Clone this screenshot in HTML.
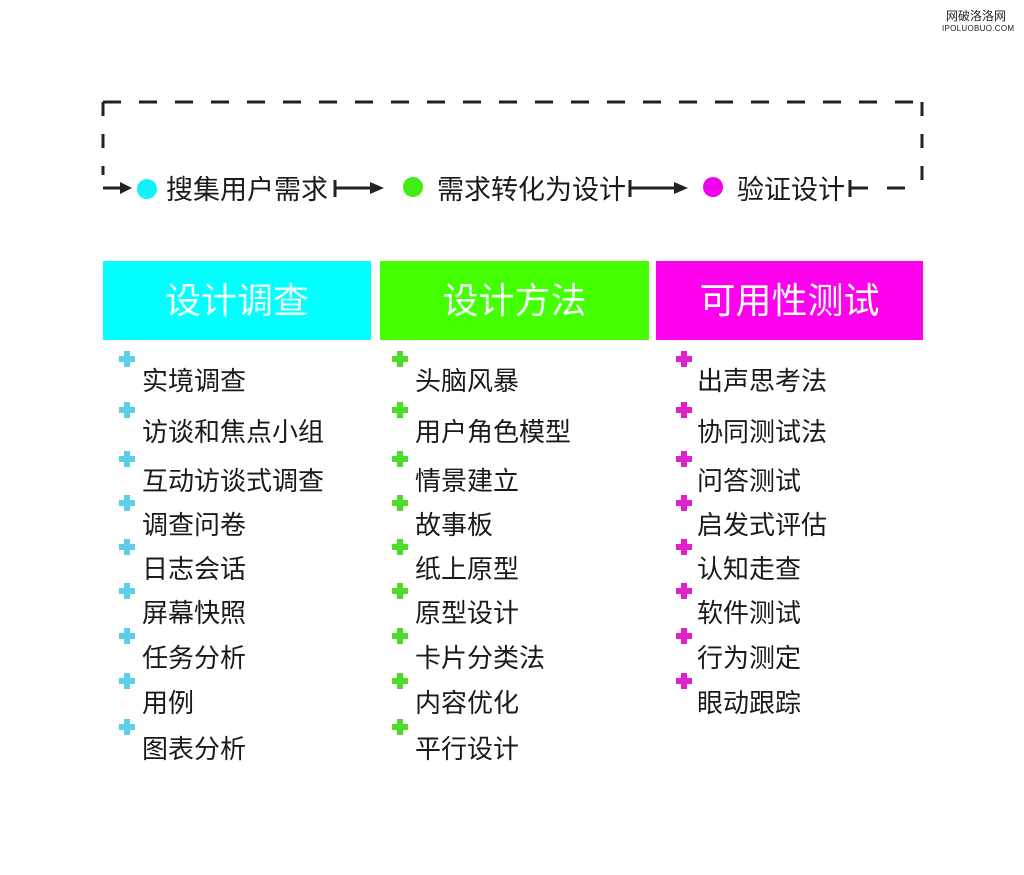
<!DOCTYPE html>
<html><head><meta charset="utf-8"><style>
body{margin:0;width:1024px;height:875px;background:#fff;position:relative;overflow:hidden;font-family:"Liberation Sans","Noto Sans CJK SC",sans-serif;color:#1a1a1a}
.a{position:absolute;white-space:nowrap}
.h{position:absolute;top:261px;height:79px;color:#f2fff8;font-size:36px;line-height:79px;text-align:center}
.it{position:absolute;font-size:26px;line-height:30px;white-space:nowrap}
.p{position:absolute;width:16px;height:16px}
.p:before{content:"";position:absolute;left:5px;top:0;width:6px;height:16px;background:var(--c)}
.p:after{content:"";position:absolute;left:0;top:5px;width:16px;height:6px;background:var(--c)}
</style></head><body>
<div class="a" style="left:946px;top:7px;font-size:12px;color:#222">网破洛洛网</div>
<div class="a" style="left:942px;top:24px;font-size:8px;color:#222;letter-spacing:0.3px">IPOLUOBUO.COM</div>
<svg class="a" style="left:0;top:0" width="1024" height="240">
<g stroke="#222" stroke-width="3" fill="none">
<line x1="103" y1="102" x2="921" y2="102" stroke-dasharray="18,18"/>
<line x1="103" y1="102" x2="103" y2="175" stroke-dasharray="14,18"/>
<line x1="922" y1="102" x2="922" y2="188" stroke-dasharray="14,18"/>
<line x1="103" y1="188" x2="122" y2="188"/>
<line x1="335" y1="180" x2="335" y2="197"/><line x1="335" y1="188" x2="372" y2="188"/>
<line x1="630" y1="180" x2="630" y2="197"/><line x1="630" y1="188" x2="676" y2="188"/>
<line x1="850" y1="180" x2="850" y2="197"/><line x1="850" y1="188" x2="868" y2="188"/>
<line x1="887" y1="188" x2="905" y2="188"/>
</g>
<g fill="#222"><polygon points="120,182 132,188 120,194"/><polygon points="370,182 384,188 370,194"/><polygon points="674,182 688,188 674,194"/></g>
<circle cx="147" cy="189" r="10" fill="#14f0f8"/>
<circle cx="413" cy="187" r="10" fill="#40ee14"/>
<circle cx="713" cy="187" r="10" fill="#f000ec"/>
<g font-size="27" fill="#1a1a1a" font-family="Liberation Sans,Noto Sans CJK SC,sans-serif">
<text x="166" y="199">搜集用户需求</text>
<text x="437" y="199">需求转化为设计</text>
<text x="737" y="199">验证设计</text>
</g></svg>
<div class="h" style="left:103px;width:268px;background:#00ffff">设计调查</div>
<div class="h" style="left:380px;width:269px;background:#44ff00">设计方法</div>
<div class="h" style="left:656px;width:267px;background:#ff00ee">可用性测试</div>
<div id="c"></div>
<script>
var cols=[[119,142,"#5ccfe6",["实境调查","访谈和焦点小组","互动访谈式调查","调查问卷","日志会话","屏幕快照","任务分析","用例","图表分析"]],
[392,415,"#4cdd2a",["头脑风暴","用户角色模型","情景建立","故事板","纸上原型","原型设计","卡片分类法","内容优化","平行设计"]],
[676,697,"#e020c8",["出声思考法","协同测试法","问答测试","启发式评估","认知走查","软件测试","行为测定","眼动跟踪"]]];
var ys=[381,432,481,525,569,613,658,703,749],h="";
cols.forEach(function(c){c[3].forEach(function(t,i){var y=ys[i];
h+='<div class="p" style="--c:'+c[2]+';left:'+c[0]+'px;top:'+(y-30)+'px"></div>';
h+='<div class="it" style="left:'+c[1]+'px;top:'+(y-15)+'px">'+t+'</div>';});});
document.getElementById("c").innerHTML=h;
</script>
</body></html>
